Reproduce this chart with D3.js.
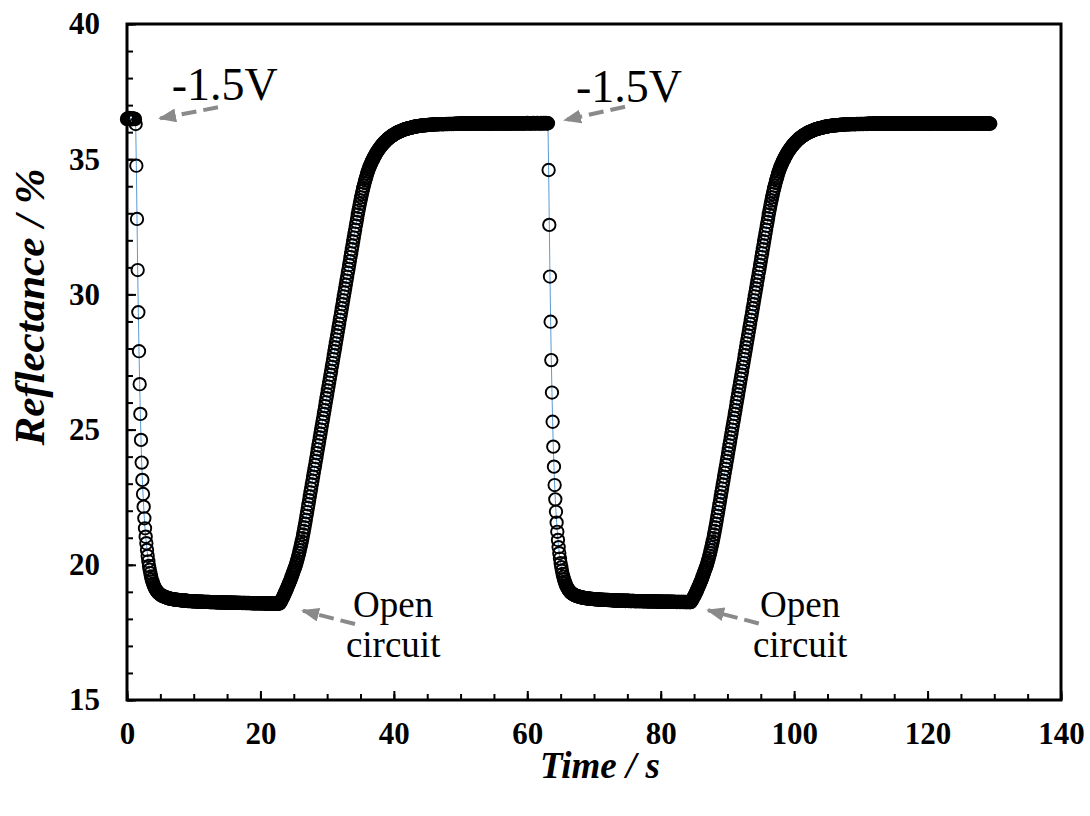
<!DOCTYPE html>
<html>
<head>
<meta charset="utf-8">
<script src="https://cdn.jsdelivr.net/npm/d3@7"></script>
<style>
  html, body { margin: 0; padding: 0; background: #ffffff; }
  svg { display: block; font-family: "Liberation Serif", "Times New Roman", serif; }
</style>
</head>
<body>
<svg id="chart" width="1090" height="816"></svg>
<script>
// Reflectance recorded every 0.1 s during two switching cycles
// (-1.5 V applied, then the cell is left at open circuit).
const SAMPLE_INTERVAL_S = 0.1;

// 0.0 – 1.2 s : bright state before the voltage step
const holdStart = [36.48, 36.51, 36.50, 36.53, 36.49, 36.50, 36.52, 36.47, 36.50, 36.51, 36.49, 36.50, 36.48];

// 1.3 – 22.8 s : -1.5 V applied, reflectance falls
const darkening1 = [
  36.30, 34.76, 32.79, 30.90, 29.34, 27.90, 26.68, 25.58, 24.62, 23.78, 23.14, 22.62, 22.15, 21.72, 21.35, 21.04, 20.80,
  20.55, 20.33, 20.13, 19.96, 19.82, 19.69, 19.57, 19.47, 19.39, 19.31, 19.25, 19.19, 19.14, 19.09, 19.05,
  19.02, 18.99, 18.96, 18.94, 18.92, 18.90, 18.88, 18.87, 18.85, 18.84, 18.83, 18.82, 18.81, 18.80, 18.79, 18.78, 18.77, 18.77, 18.76, 18.75, 18.75, 18.74, 18.74, 18.73, 18.73, 18.72,
  18.72, 18.71, 18.71, 18.71, 18.70, 18.70, 18.70, 18.69, 18.69, 18.69,
  18.69, 18.68, 18.68, 18.68, 18.68, 18.67, 18.67, 18.67, 18.67, 18.67,
  18.66, 18.66, 18.66, 18.66, 18.66, 18.66, 18.65, 18.65, 18.65, 18.65,
  18.65, 18.65, 18.65, 18.65, 18.64, 18.64, 18.64, 18.64, 18.64, 18.64,
  18.64, 18.64, 18.63, 18.64, 18.63, 18.63, 18.63, 18.63, 18.63, 18.63,
  18.63, 18.63, 18.62, 18.63, 18.62, 18.62, 18.62, 18.62, 18.62, 18.62,
  18.62, 18.62, 18.61, 18.62, 18.61, 18.61, 18.61, 18.61, 18.61, 18.61,
  18.61, 18.61, 18.60, 18.61, 18.61, 18.60, 18.61, 18.60, 18.60, 18.61,
  18.60, 18.60, 18.60, 18.61, 18.60, 18.60, 18.59, 18.60, 18.60, 18.60,
  18.60, 18.59, 18.60, 18.59, 18.59, 18.60, 18.59, 18.59, 18.59, 18.59,
  18.59, 18.59, 18.58, 18.59, 18.59, 18.59, 18.58, 18.59, 18.58, 18.59,
  18.58, 18.58, 18.59, 18.58, 18.58, 18.58, 18.58, 18.57, 18.58, 18.58,
  18.58, 18.58, 18.57, 18.58, 18.58, 18.57, 18.58, 18.57, 18.57, 18.58,
  18.57, 18.57, 18.58, 18.57, 18.57, 18.57, 18.57, 18.56, 18.57, 18.57,
  18.57, 18.56, 18.57, 18.57, 18.56, 18.57, 18.56, 18.56, 18.57, 18.56,
  18.56, 18.56, 18.57, 18.56, 18.56, 18.56, 18.56, 18.57
];

// 22.9 – 63.1 s : open circuit, reflectance recovers
const recovery1 = [
  18.57, 18.62, 18.66, 18.71, 18.76, 18.81, 18.86, 18.91, 18.97, 19.02, 19.08, 19.14, 19.20, 19.26, 19.32, 19.38, 19.44, 19.51, 19.57, 19.64, 19.71, 19.78, 19.85, 19.92,
  19.99, 20.07, 20.16, 20.25, 20.34, 20.44, 20.54, 20.65, 20.76, 20.87, 20.99, 21.12, 21.25, 21.38, 21.52, 21.66,
  21.81, 21.95, 22.10, 22.24, 22.39, 22.53, 22.68, 22.82, 22.97, 23.11, 23.26, 23.40, 23.55, 23.69, 23.84, 23.98, 24.13, 24.27, 24.42, 24.56,
  24.71, 24.85, 25.00, 25.14, 25.29, 25.43, 25.58, 25.72, 25.87, 26.01, 26.16, 26.30, 26.45, 26.59, 26.74, 26.88, 27.03, 27.17, 27.32, 27.46,
  27.61, 27.75, 27.90, 28.04, 28.19, 28.33, 28.48, 28.62, 28.77, 28.91, 29.06, 29.20, 29.35, 29.49, 29.64, 29.78, 29.93, 30.07, 30.22, 30.36,
  30.51, 30.65, 30.80, 30.94, 31.09, 31.23, 31.38, 31.52, 31.67, 31.81, 31.96, 32.10, 32.25, 32.39, 32.54, 32.68,
  32.82, 32.96, 33.10, 33.23, 33.35, 33.47, 33.59, 33.71, 33.82, 33.92, 34.02, 34.12, 34.21, 34.30, 34.38, 34.47, 34.54, 34.61, 34.68, 34.74, 34.80, 34.86,
  34.91, 34.96, 35.01, 35.06, 35.11, 35.15, 35.20, 35.24, 35.28, 35.31,
  35.35, 35.39, 35.42, 35.45, 35.49, 35.52, 35.55, 35.58, 35.60, 35.63,
  35.65, 35.68, 35.70, 35.73, 35.75, 35.77, 35.79, 35.81, 35.83, 35.85,
  35.86, 35.88, 35.90, 35.91, 35.93, 35.94, 35.96, 35.97, 35.98, 36.00,
  36.01, 36.02, 36.03, 36.04, 36.05, 36.06, 36.07, 36.08, 36.09, 36.10,
  36.11, 36.12, 36.12, 36.13, 36.14, 36.15, 36.15, 36.16, 36.16, 36.17,
  36.18, 36.18, 36.19, 36.19, 36.20, 36.20, 36.21, 36.21, 36.22, 36.22,
  36.22, 36.23, 36.23, 36.24, 36.24, 36.24, 36.25, 36.25, 36.25, 36.25,
  36.26, 36.26, 36.26, 36.26, 36.27, 36.27, 36.27, 36.27, 36.28, 36.28,
  36.28, 36.28, 36.28, 36.29, 36.29, 36.29, 36.29, 36.29, 36.29, 36.29,
  36.30, 36.29, 36.30, 36.30, 36.30, 36.30, 36.29, 36.30, 36.30, 36.30,
  36.30, 36.30, 36.31, 36.30, 36.30, 36.31, 36.30, 36.31, 36.31, 36.30,
  36.31, 36.31, 36.30, 36.31, 36.31, 36.31, 36.32, 36.31, 36.31, 36.31,
  36.32, 36.31, 36.32, 36.32, 36.31, 36.32, 36.33, 36.32, 36.31, 36.32,
  36.32, 36.33, 36.32, 36.32, 36.31, 36.32, 36.32, 36.33, 36.32, 36.32,
  36.33, 36.32, 36.32, 36.31, 36.32, 36.33, 36.32, 36.32, 36.33, 36.32,
  36.32, 36.32, 36.33, 36.32, 36.31, 36.32, 36.32, 36.33, 36.32, 36.32,
  36.33, 36.32, 36.32, 36.33, 36.32, 36.32, 36.31, 36.32, 36.33, 36.32,
  36.32, 36.33, 36.32, 36.32, 36.33, 36.32, 36.32, 36.32, 36.33, 36.32,
  36.33, 36.32, 36.33, 36.32, 36.32, 36.33, 36.32, 36.33, 36.32, 36.32,
  36.33, 36.32, 36.32, 36.33, 36.33, 36.32, 36.32, 36.33, 36.32, 36.33,
  36.32, 36.33, 36.33, 36.32, 36.33, 36.32, 36.33, 36.33, 36.32, 36.33,
  36.33, 36.32, 36.33, 36.33, 36.32, 36.33, 36.33, 36.32, 36.33, 36.33,
  36.32, 36.33, 36.33, 36.34, 36.33, 36.32, 36.33, 36.33, 36.33, 36.32,
  36.33, 36.33, 36.34, 36.33, 36.32, 36.33, 36.33, 36.33, 36.34, 36.33,
  36.33, 36.32, 36.33, 36.33, 36.34, 36.33, 36.32, 36.33, 36.34, 36.33,
  36.33, 36.34, 36.33, 36.32, 36.33
];

// 63.2 – 84.4 s : second -1.5 V step
const darkening2 = [
  34.60, 32.57, 30.66, 28.99, 27.57, 26.37, 25.29, 24.37, 23.63, 22.95, 22.42, 21.96, 21.56, 21.22, 20.92, 20.65,
  20.43, 20.23, 20.06, 19.91, 19.78, 19.66, 19.56, 19.47, 19.39, 19.32, 19.25, 19.20, 19.15, 19.11, 19.07, 19.04, 19.01, 18.98, 18.96, 18.94, 18.92, 18.91, 18.89,
  18.88, 18.87, 18.86, 18.85, 18.84, 18.83, 18.82, 18.82, 18.81, 18.80,
  18.80, 18.79, 18.79, 18.78, 18.78, 18.77, 18.77, 18.77, 18.76, 18.76,
  18.76, 18.75, 18.75, 18.75, 18.74, 18.74, 18.74, 18.74, 18.73, 18.73,
  18.73, 18.73, 18.72, 18.72, 18.72, 18.72, 18.72, 18.71, 18.71, 18.71,
  18.71, 18.71, 18.71, 18.70, 18.70, 18.70, 18.70, 18.70, 18.70, 18.70,
  18.69, 18.70, 18.69, 18.69, 18.69, 18.69, 18.69, 18.68, 18.69, 18.68,
  18.68, 18.68, 18.68, 18.68, 18.68, 18.67, 18.68, 18.67, 18.67, 18.67,
  18.67, 18.67, 18.68, 18.67, 18.67, 18.67, 18.66, 18.67, 18.67, 18.67,
  18.67, 18.66, 18.67, 18.66, 18.66, 18.66, 18.66, 18.67, 18.66, 18.66,
  18.66, 18.66, 18.65, 18.66, 18.66, 18.66, 18.66, 18.65, 18.66, 18.66,
  18.66, 18.65, 18.66, 18.65, 18.65, 18.65, 18.66, 18.65, 18.65, 18.65,
  18.65, 18.65, 18.64, 18.65, 18.65, 18.65, 18.65, 18.64, 18.65, 18.65,
  18.65, 18.64, 18.65, 18.64, 18.65, 18.64, 18.64, 18.64, 18.65, 18.64,
  18.64, 18.64, 18.64, 18.63, 18.64, 18.64, 18.64, 18.64, 18.63, 18.64,
  18.64, 18.64, 18.63, 18.64, 18.64, 18.63, 18.64, 18.63, 18.63, 18.64,
  18.63, 18.63, 18.63, 18.62, 18.63, 18.63, 18.63, 18.63, 18.62, 18.63,
  18.63, 18.63, 18.62, 18.63, 18.63, 18.62, 18.63, 18.62, 18.62, 18.63,
  18.62, 18.63, 18.62, 18.62
];

// 84.5 – 129.4 s : second open-circuit recovery
const recovery2 = [
  18.62, 18.66, 18.70, 18.74, 18.79, 18.83, 18.88, 18.93, 18.98, 19.03, 19.09, 19.15, 19.20, 19.26, 19.32, 19.38, 19.44, 19.51, 19.57, 19.64, 19.71, 19.78, 19.85, 19.92,
  19.99, 20.07, 20.16, 20.25, 20.34, 20.44, 20.54, 20.65, 20.76, 20.87, 20.99, 21.12, 21.25, 21.38, 21.52, 21.66,
  21.81, 21.95, 22.10, 22.24, 22.39, 22.53, 22.68, 22.82, 22.97, 23.11, 23.26, 23.40, 23.55, 23.69, 23.84, 23.98, 24.13, 24.27, 24.42, 24.56,
  24.71, 24.85, 25.00, 25.14, 25.29, 25.43, 25.58, 25.72, 25.87, 26.01, 26.16, 26.30, 26.45, 26.59, 26.74, 26.88, 27.03, 27.17, 27.32, 27.46,
  27.61, 27.75, 27.90, 28.04, 28.19, 28.33, 28.48, 28.62, 28.77, 28.91, 29.06, 29.20, 29.35, 29.49, 29.64, 29.78, 29.93, 30.07, 30.22, 30.36,
  30.51, 30.65, 30.80, 30.94, 31.09, 31.23, 31.38, 31.52, 31.67, 31.81, 31.96, 32.10, 32.25, 32.39, 32.54, 32.68,
  32.82, 32.96, 33.10, 33.23, 33.35, 33.47, 33.59, 33.71, 33.82, 33.92, 34.02, 34.12, 34.21, 34.30, 34.38, 34.47, 34.54, 34.61, 34.68, 34.74, 34.80, 34.86,
  34.91, 34.96, 35.01, 35.06, 35.11, 35.15, 35.20, 35.24, 35.28, 35.31,
  35.35, 35.39, 35.42, 35.45, 35.49, 35.52, 35.55, 35.58, 35.60, 35.63,
  35.65, 35.68, 35.70, 35.73, 35.75, 35.77, 35.79, 35.81, 35.83, 35.85,
  35.86, 35.88, 35.90, 35.91, 35.93, 35.94, 35.96, 35.97, 35.98, 36.00,
  36.01, 36.02, 36.03, 36.04, 36.05, 36.06, 36.07, 36.08, 36.09, 36.10,
  36.11, 36.12, 36.12, 36.13, 36.14, 36.15, 36.15, 36.16, 36.16, 36.17,
  36.18, 36.18, 36.19, 36.19, 36.20, 36.20, 36.21, 36.21, 36.22, 36.22,
  36.22, 36.23, 36.23, 36.24, 36.24, 36.24, 36.25, 36.25, 36.25, 36.25,
  36.26, 36.26, 36.26, 36.26, 36.27, 36.27, 36.27, 36.27, 36.28, 36.28,
  36.28, 36.28, 36.28, 36.29, 36.29, 36.29, 36.29, 36.29, 36.29, 36.29,
  36.29, 36.30, 36.30, 36.29, 36.30, 36.30, 36.30, 36.30, 36.29, 36.30,
  36.30, 36.31, 36.30, 36.30, 36.31, 36.30, 36.30, 36.31, 36.31, 36.30,
  36.31, 36.30, 36.31, 36.31, 36.31, 36.31, 36.30, 36.31, 36.32, 36.31,
  36.31, 36.32, 36.31, 36.31, 36.32, 36.31, 36.32, 36.32, 36.31, 36.32,
  36.32, 36.31, 36.32, 36.32, 36.31, 36.32, 36.32, 36.32, 36.31, 36.32,
  36.32, 36.32, 36.31, 36.32, 36.32, 36.33, 36.32, 36.31, 36.32, 36.32,
  36.31, 36.32, 36.32, 36.32, 36.33, 36.32, 36.31, 36.32, 36.32, 36.32,
  36.32, 36.33, 36.32, 36.32, 36.31, 36.32, 36.32, 36.33, 36.32, 36.32,
  36.32, 36.32, 36.33, 36.32, 36.32, 36.31, 36.32, 36.32, 36.32, 36.33,
  36.32, 36.32, 36.31, 36.32, 36.33, 36.32, 36.32, 36.32, 36.33, 36.32,
  36.33, 36.32, 36.32, 36.32, 36.33, 36.32, 36.31, 36.32, 36.32, 36.33,
  36.32, 36.32, 36.33, 36.32, 36.32, 36.32, 36.33, 36.32, 36.32, 36.31,
  36.32, 36.33, 36.32, 36.32, 36.32, 36.33, 36.32, 36.32, 36.33, 36.32,
  36.32, 36.33, 36.32, 36.32, 36.31, 36.32, 36.32, 36.33, 36.32, 36.32,
  36.33, 36.32, 36.32, 36.32, 36.33, 36.32, 36.32, 36.31, 36.32, 36.32,
  36.32, 36.32, 36.33, 36.32, 36.32, 36.32, 36.31, 36.32, 36.33, 36.32,
  36.32, 36.33, 36.32, 36.32, 36.33, 36.32, 36.32, 36.32, 36.33, 36.32,
  36.32, 36.32, 36.33, 36.32, 36.31, 36.32, 36.32, 36.33, 36.32, 36.32,
  36.33, 36.32, 36.32, 36.33, 36.32, 36.32, 36.32, 36.33, 36.32, 36.32,
  36.32, 36.33, 36.32, 36.32, 36.32, 36.33, 36.32, 36.32, 36.31, 36.32,
  36.32, 36.32, 36.33, 36.32, 36.32, 36.33, 36.32, 36.32, 36.32, 36.33,
  36.32, 36.31
];

// Axis ticks
const xMajorTicks = [0, 20, 40, 60, 80, 100, 120, 140];
const xMinorTicks = [0, 5, 10, 15, 20, 25, 30, 35, 40, 45, 50, 55, 60, 65, 70, 75, 80, 85, 90, 95, 100, 105, 110, 115, 120, 125, 130, 135, 140];
const yMajorTicks = [15, 20, 25, 30, 35, 40];
const yMinorTicks = [15, 16, 17, 18, 19, 20, 21, 22, 23, 24, 25, 26, 27, 28, 29, 30, 31, 32, 33, 34, 35, 36, 37, 38, 39, 40];

// Annotations, positioned in data units (time s, reflectance %)
const voltageLabels = [
  { text: "-1.5V", t: 6.7, v: 37.19 },
  { text: "-1.5V", t: 67.3, v: 37.13 }
];
const openCircuitLabels = [
  { t: 39.9, v: 18.07 },
  { t: 100.9, v: 18.07 }
];
const arrows = [
  { t0: 13.64, v0: 36.92, t1: 4.95, v1: 36.51 },
  { t0: 74.65, v0: 36.94, t1: 65.65, v1: 36.45 },
  { t0: 34.18, v0: 17.81, t1: 26.38, v1: 18.30 },
  { t0: 94.70, v0: 17.83, t1: 87.10, v1: 18.32 }
];

const reflectance = [].concat(holdStart, darkening1, recovery1, darkening2, recovery2);
const points = reflectance.map((v, i) => ({ t: i * SAMPLE_INTERVAL_S, v: v }));

const svg = d3.select("#chart");
const plot = { left: 127, top: 24, right: 1061, bottom: 700 };

const x = d3.scaleLinear().domain([0, 140]).range([plot.left, plot.right]);
const y = d3.scaleLinear().domain([15, 40]).range([plot.bottom, plot.top]);

// ---- axes (ticks pointing inward) ----
function styleAxis(g) {
  g.select(".domain").remove();
  g.selectAll(".tick line").attr("stroke", "#000").attr("stroke-width", 2);
}
function styleLabels(g) {
  g.selectAll("text")
    .attr("fill", "#000")
    .style("font-family", '"Liberation Serif", "Times New Roman", serif')
    .style("font-size", "31px")
    .style("font-weight", "bold");
}

svg.append("g")
  .attr("transform", `translate(0,${plot.bottom})`)
  .call(d3.axisBottom(x).tickValues(xMinorTicks).tickSizeInner(-6).tickSizeOuter(0).tickFormat(""))
  .call(styleAxis);

svg.append("g")
  .attr("transform", `translate(0,${plot.bottom})`)
  .call(d3.axisBottom(x).tickValues(xMajorTicks).tickSizeInner(-9).tickSizeOuter(0).tickPadding(22).tickFormat(d3.format("d")))
  .call(styleAxis)
  .call(styleLabels);

svg.append("g")
  .attr("transform", `translate(${plot.left},0)`)
  .call(d3.axisLeft(y).tickValues(yMinorTicks).tickSizeInner(-6).tickSizeOuter(0).tickFormat(""))
  .call(styleAxis);

svg.append("g")
  .attr("transform", `translate(${plot.left},0)`)
  .call(d3.axisLeft(y).tickValues(yMajorTicks).tickSizeInner(-9).tickSizeOuter(0).tickPadding(27).tickFormat(d3.format("d")))
  .call(styleAxis)
  .call(styleLabels);

// ---- data: thin connecting line, then open circle markers ----
const line = d3.line().x(d => x(d.t)).y(d => y(d.v));

svg.append("path")
  .datum(points)
  .attr("d", line)
  .attr("fill", "none")
  .attr("stroke", "#5b9bd5")
  .attr("stroke-width", 1);

svg.append("g")
  .selectAll("circle")
  .data(points)
  .join("circle")
  .attr("cx", d => x(d.t))
  .attr("cy", d => y(d.v))
  .attr("r", 6.2)
  .attr("fill", "none")
  .attr("stroke", "#000")
  .attr("stroke-width", 1.9);

// ---- plot frame ----
svg.append("rect")
  .attr("x", plot.left)
  .attr("y", plot.top)
  .attr("width", plot.right - plot.left)
  .attr("height", plot.bottom - plot.top)
  .attr("fill", "none")
  .attr("stroke", "#000")
  .attr("stroke-width", 3);

// ---- axis titles ----
svg.append("text")
  .attr("x", 600)
  .attr("y", 778)
  .attr("text-anchor", "middle")
  .style("font-size", "37px")
  .style("font-weight", "bold")
  .style("font-style", "italic")
  .text("Time / s");

svg.append("text")
  .attr("transform", "translate(44,307) rotate(-90)")
  .attr("text-anchor", "middle")
  .style("font-size", "43px")
  .style("font-weight", "bold")
  .style("font-style", "italic")
  .text("Reflectance / %");

// ---- annotations ----
const defs = svg.append("defs");
defs.append("marker")
  .attr("id", "arrowHead")
  .attr("viewBox", "0 0 18 14")
  .attr("refX", 16)
  .attr("refY", 7)
  .attr("markerWidth", 18)
  .attr("markerHeight", 14)
  .attr("markerUnits", "userSpaceOnUse")
  .attr("orient", "auto")
  .append("path")
  .attr("d", "M0,0 L18,7 L0,14 Z")
  .attr("fill", "#8a8a8a");

svg.append("g")
  .selectAll("line")
  .data(arrows)
  .join("line")
  .attr("x1", d => x(d.t0))
  .attr("y1", d => y(d.v0))
  .attr("x2", d => x(d.t1))
  .attr("y2", d => y(d.v1))
  .attr("stroke", "#8a8a8a")
  .attr("stroke-width", 4)
  .attr("stroke-dasharray", "15,7")
  .attr("marker-end", "url(#arrowHead)");

svg.append("g")
  .selectAll("text")
  .data(voltageLabels)
  .join("text")
  .attr("x", d => x(d.t))
  .attr("y", d => y(d.v))
  .style("font-size", "46px")
  .text(d => d.text);

const oc = svg.append("g")
  .selectAll("text")
  .data(openCircuitLabels)
  .join("text")
  .attr("x", d => x(d.t))
  .attr("y", d => y(d.v))
  .attr("text-anchor", "middle")
  .style("font-size", "37px");
oc.append("tspan").attr("x", d => x(d.t)).text("Open");
oc.append("tspan").attr("x", d => x(d.t)).attr("dy", 40).text("circuit");
</script>
</body>
</html>
